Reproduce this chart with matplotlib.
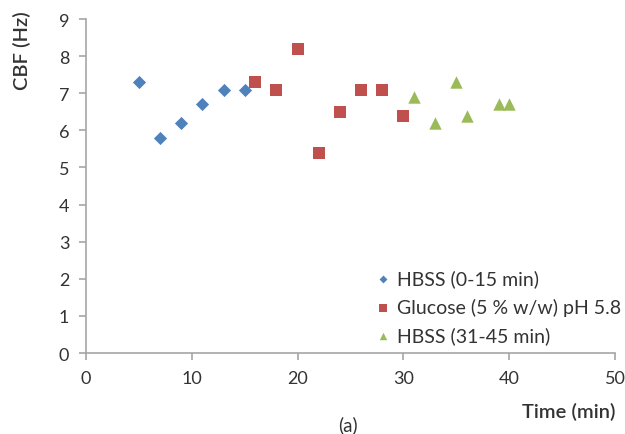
import matplotlib
matplotlib.use("Agg")
import matplotlib.pyplot as plt

# CBF measurements per perfusion phase
hbss1_time = [5, 7, 9, 11, 13, 15]
hbss1_cbf = [7.3, 5.8, 6.2, 6.7, 7.1, 7.1]

glucose_time = [16, 18, 20, 22, 24, 26, 28, 30]
glucose_cbf = [7.3, 7.1, 8.2, 5.4, 6.5, 7.1, 7.1, 6.4]

hbss2_time = [31, 33, 35, 36, 39, 40]
hbss2_cbf = [6.9, 6.2, 7.3, 6.4, 6.7, 6.7]

series_labels = ["HBSS (0-15 min)", "Glucose (5 % w/w) pH 5.8", "HBSS (31-45 min)"]
x_ticks = [0, 10, 20, 30, 40, 50]
y_ticks = [0, 1, 2, 3, 4, 5, 6, 7, 8, 9]

plt.rcParams["font.family"] = ["Lato", "DejaVu Sans"]
text_color = "#333333"

fig = plt.figure(figsize=(6.25, 4.35), dpi=100)
ax = fig.add_axes([0.1376, 0.186, 0.8464, 0.768])

ax.scatter(hbss1_time, hbss1_cbf, marker="D", s=45, color="#4F81BD",
           label=series_labels[0], zorder=3, linewidths=0)
ax.scatter(glucose_time, glucose_cbf, marker="s", s=85, color="#C0504D",
           label=series_labels[1], zorder=3, linewidths=0)
ax.scatter(hbss2_time, hbss2_cbf, marker="^", s=80, color="#9BBB59",
           label=series_labels[2], zorder=3, linewidths=0)

ax.set_xlim(0, 50)
ax.set_ylim(0, 9)
ax.set_xticks(x_ticks)
ax.set_yticks(y_ticks)

for side in ("top", "right"):
    ax.spines[side].set_visible(False)
for side in ("left", "bottom"):
    ax.spines[side].set_color("#A6A6A6")
    ax.spines[side].set_linewidth(1.2)
ax.tick_params(axis="both", direction="out", color="#A6A6A6", length=5,
               width=1.2, labelsize=13, labelcolor=text_color, pad=7)

fig.text(0.984, 0.053, "Time (min)", ha="right", va="center",
         fontsize=14.5, fontweight="semibold", color=text_color)
fig.text(0.557, 0.023, "(a)", ha="center", va="center",
         fontsize=13.5, color=text_color)
fig.text(0.035, 0.793, "CBF (Hz)", ha="center", va="bottom", rotation=90,
         fontsize=14.5, fontweight="semibold", color=text_color)

leg = fig.legend(loc="upper left", bbox_to_anchor=(0.601, 0.379), frameon=False,
                 fontsize=14, handletextpad=0.3, labelspacing=0.55,
                 markerscale=0.6, handlelength=0.8, borderpad=0,
                 borderaxespad=0)
for t in leg.get_texts():
    t.set_color(text_color)

fig.savefig("out.png", dpi=100)
